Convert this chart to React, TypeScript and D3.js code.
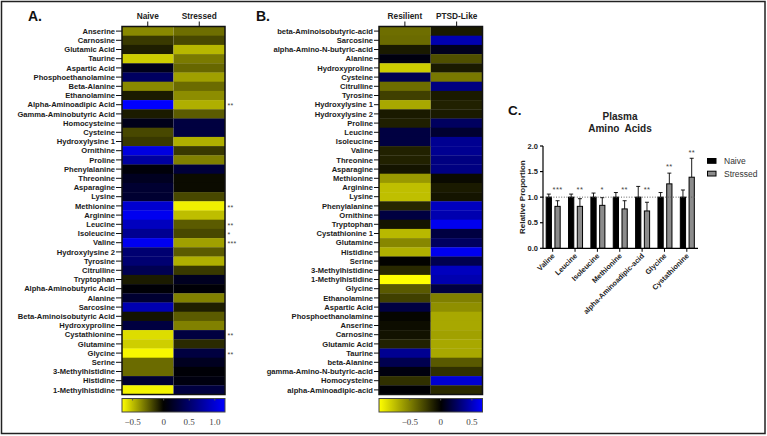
import React from "react";
import * as d3 from "d3";

// ---------- Panel A data ----------
const rowsA = [
  "Anserine", "Carnosine", "Glutamic Acid", "Taurine", "Aspartic Acid", "Phosphoethanolamine",
  "Beta-Alanine", "Ethanolamine", "Alpha-Aminoadipic Acid", "Gamma-Aminobutyric Acid", "Homocysteine",
  "Cysteine", "Hydroxylysine 1", "Ornithine", "Proline", "Phenylalanine", "Threonine", "Asparagine",
  "Lysine", "Methionine", "Arginine", "Leucine", "Isoleucine", "Valine", "Hydroxylysine 2", "Tyrosine",
  "Citrulline", "Tryptophan", "Alpha-Aminobutyric Acid", "Alanine", "Sarcosine", "Beta-Aminoisobutyric Acid",
  "Hydroxyproline", "Cystathionine", "Glutamine", "Glycine", "Serine", "3-Methylhistidine", "Histidine",
  "1-Methylhistidine",
];
const colsA = ["Naive", "Stressed"];
const naiveA = [
  -0.36, -0.15, -0.08, -0.54, 0.12, 0.45, -0.36, -0.07, 1.2, -0.07, 0.12, -0.19, -0.15, 1.05, 0.75,
  0.04, 0.15, 0.23, 0.23, 0.98, 1.13, 0.9, 0.68, 1.13, 0.53, 0.53, 0.38, -0.07, 0.03, 0.23, 0.83,
  -0.05, 0.3, -0.58, -0.54, -0.65, -0.28, -0.28, 0.23, -0.64,
];
const stressedA = [
  -0.29, -0.19, -0.48, -0.32, -0.27, -0.42, -0.28, -0.37, -0.46, -0.24, 0.3, 0.3, -0.46, -0.15, -0.34,
  0.27, -0.03, -0.03, -0.19, -0.63, -0.5, -0.24, -0.19, -0.42, -0.24, -0.46, -0.15, 0.15, 0.03, -0.34,
  -0.08, -0.24, -0.34, 0.3, -0.11, 0.3, 0.15, 0.03, 0.07, 0.3,
];
const sigA = [
  "", "", "", "", "", "", "", "", "**", "", "", "", "", "", "", "", "", "", "", "**", "", "**", "*", "***",
  "", "", "", "", "", "", "", "", "", "**", "", "**", "", "", "", "",
];
const colorDomainA = [-0.67, 0, 1.2];
const ticksA = [-0.5, 0, 0.5, 1.0];

// ---------- Panel B data ----------
const rowsB = [
  "beta-Aminoisobutyric-acid", "Sarcosine", "alpha-Amino-N-butyric-acid", "Alanine", "Hydroxyproline",
  "Cysteine", "Citrulline", "Tyrosine", "Hydroxylysine 1", "Hydroxylysine 2", "Proline", "Leucine",
  "Isoleucine", "Valine", "Threonine", "Asparagine", "Methionine", "Arginine", "Lysine", "Phenylalanine",
  "Ornithine", "Tryptophan", "Cystathionine 1", "Glutamine", "Histidine", "Serine", "3-Methylhistidine",
  "1-Methylhistidine", "Glycine", "Ethanolamine", "Aspartic Acid", "Phosphoethanolamine", "Anserine",
  "Carnosine", "Glutamic Acid", "Taurine", "beta-Alanine", "gamma-Amino-N-butyric-acid", "Homocysteine",
  "alpha-Aminoadipic-acid",
];
const colsB = ["Resilient", "PTSD-Like"];
const resilientB = [
  -0.43, -0.42, -0.1, 0.04, -0.8, 0.21, -0.43, -0.25, -0.66, -0.1, -0.12, 0.17, 0.17, -0.13, -0.13,
  -0.08, -0.6, -0.75, -0.75, -0.15, 0.17, -0.08, -0.72, -0.53, -0.69, -0.01, -0.16, -1.0, -0.35, -0.25,
  0.17, -0.02, -0.05, -0.07, -0.13, 0.38, 0.21, 0.04, -0.19, 0.01,
];
const ptsdB = [
  -0.1, 0.46, 0.08, -0.31, -0.1, -0.47, 0.34, -0.1, -0.13, -0.1, 0.25, 0.13, 0.38, 0.38, 0.34, 0.34,
  -0.04, -0.1, -0.08, 0.5, 0.46, 0.63, 0.17, 0.25, 0.63, 0.21, 0.5, 0.46, 0.17, -0.5, -0.56, -0.66,
  -0.66, -0.63, -0.66, -0.66, -0.35, -0.19, 0.55, -0.16,
];
const sigB: string[] = [];
const colorDomainB = [-1.0, 0, 0.67];
const ticksB = [-0.5, 0, 0.5];

// ---------- Panel C data ----------
const groupsC = ["Valine", "Leucine", "Isoleucine", "Methionine", "alpha-Aminoadipic-acid", "Glycine", "Cystathionine"];
const seriesC = ["Naive", "Stressed"];
const naiveMeanC = [1.0, 1.0, 1.0, 1.0, 1.0, 1.0, 1.0];
const naiveErrC = [0.06, 0.06, 0.08, 0.09, 0.21, 0.09, 0.14];
const stressedMeanC = [0.82, 0.82, 0.84, 0.77, 0.73, 1.26, 1.39];
const stressedErrC = [0.11, 0.15, 0.15, 0.16, 0.17, 0.21, 0.37];
const sigC = ["***", "**", "*", "**", "**", "**", "**"];
const sigLevelC = [1.18, 1.18, 1.18, 1.18, 1.18, 1.63, 1.91];
const yTicksC = [0, 0.5, 1.0, 1.5, 2.0];

const FONT = "'Liberation Sans', Arial, Helvetica, sans-serif";
const SERIF = "'Liberation Serif', 'Times New Roman', serif";

type HeatProps = {
  id: string;
  rows: string[];
  cols: string[];
  v1: number[];
  v2: number[];
  sig: string[];
  sigX: number;
  labelRight: number;
  x0: number;
  x1: number;
  xZero: number;
  colorDomain: number[];
  ticks: number[];
};

function Heatmap(p: HeatProps) {
  const top = 26.5;
  const rowH = 9.2;
  const y = d3.scaleBand<string>().domain(p.rows).range([top, top + rowH * p.rows.length]);
  const x = d3.scaleBand<string>().domain(p.cols).range([p.x0, p.x1]);
  const color = d3
    .scaleLinear<string>()
    .domain(p.colorDomain)
    .range(["#ffff00", "#000000", "#0000ff"])
    .clamp(true);
  const cbX = d3.scaleLinear().domain(p.colorDomain).range([p.x0, p.xZero, p.x1]);
  const bottom = top + rowH * p.rows.length;
  const cbTop = 398.5;
  const cbH = 13.5;
  const stops = d3.range(0, 1.0001, 0.05).map((t) => {
    const v = cbX.invert(p.x0 + t * (p.x1 - p.x0));
    return { off: t, c: color(v) };
  });
  const fmt = (v: number) => (v === 0 ? "0" : d3.format(".1f")(v));
  const vals = [p.v1, p.v2];
  return (
    <g>
      <defs>
        <linearGradient id={p.id} x1="0" x2="1" y1="0" y2="0">
          {stops.map((s, i) => (
            <stop key={i} offset={s.off} stopColor={s.c} />
          ))}
        </linearGradient>
      </defs>
      {p.cols.map((c) => (
        <g key={c}>
          <text
            x={(x(c) as number) + x.bandwidth() / 2}
            y={19}
            textAnchor="middle"
            fontFamily={FONT}
            fontWeight="bold"
            fontSize={8.3}
            fill="#222"
          >
            {c}
          </text>
          <line
            x1={(x(c) as number) + x.bandwidth() / 2}
            x2={(x(c) as number) + x.bandwidth() / 2}
            y1={21.5}
            y2={top}
            stroke="#111"
            strokeWidth={1}
          />
        </g>
      ))}
      {p.rows.map((r, i) => (
        <g key={r}>
          {p.cols.map((c, j) => (
            <rect
              key={c}
              x={x(c)}
              y={y(r)}
              width={x.bandwidth()}
              height={y.bandwidth() + 0.3}
              fill={color(vals[j][i])}
            />
          ))}
          <text
            x={p.labelRight}
            y={(y(r) as number) + y.bandwidth() / 2}
            dy="0.35em"
            textAnchor="end"
            fontFamily={FONT}
            fontWeight="bold"
            fontSize={7.6}
            fill="#1a1a1a"
          >
            {r}
          </text>
          <line
            x1={p.labelRight + 1}
            x2={p.x0}
            y1={(y(r) as number) + y.bandwidth() / 2}
            y2={(y(r) as number) + y.bandwidth() / 2}
            stroke="#111"
            strokeWidth={1}
          />
          {p.sig[i] ? (
            <text
              x={p.sigX}
              y={(y(r) as number) + y.bandwidth() / 2 + 3.6}
              fontFamily={FONT}
              fontSize={7}
              fill="#444"
              letterSpacing={0.3}
            >
              {p.sig[i]}
            </text>
          ) : null}
        </g>
      ))}
      <rect x={p.x0} y={top} width={p.x1 - p.x0} height={bottom - top} fill="none" stroke="#111" strokeWidth={1.5} />
      <rect x={p.x0} y={cbTop} width={p.x1 - p.x0} height={cbH} fill={`url(#${p.id})`} stroke="#444" strokeWidth={1} />
      {p.ticks.map((t) => (
        <g key={t}>
          <line x1={cbX(t)} x2={cbX(t)} y1={cbTop} y2={cbTop + 2} stroke="#555" strokeWidth={1} />
          <text x={cbX(t)} y={424.5} textAnchor="middle" fontFamily={SERIF} fontSize={9} fill="#444">
            {fmt(t)}
          </text>
        </g>
      ))}
    </g>
  );
}

function BarPanel() {
  const y = d3.scaleLinear().domain([0, 2]).range([248.3, 146]);
  const x = d3.scaleBand<string>().domain(groupsC).range([541.5, 698]);
  const sub = d3.scaleBand<string>().domain(seriesC).range([-6.5, 7.5]).paddingInner(0.4);
  const axisX0 = 543;
  const axisX1 = 698;
  const means = [naiveMeanC, stressedMeanC];
  const errs = [naiveErrC, stressedErrC];
  const fills = ["#000000", "#8c8c8c"];
  return (
    <g fontFamily={FONT}>
      <text x={508} y={115} fontWeight="bold" fontSize={13.5} fill="#111">
        C.
      </text>
      <text x={620} y={120} textAnchor="middle" fontWeight="bold" fontSize={10} fill="#222">
        Plasma
      </text>
      <text x={620} y={131.5} textAnchor="middle" fontWeight="bold" fontSize={10} fill="#222" style={{ whiteSpace: "pre" }}>
        {"Amino  Acids"}
      </text>
      {/* bars */}
      {groupsC.map((g, i) => {
        const cx = (x(g) as number) + x.bandwidth() / 2;
        return (
          <g key={g}>
            {seriesC.map((s, j) => {
              const bx = cx + (sub(s) as number);
              const bw = sub.bandwidth();
              const m = means[j][i];
              const e = errs[j][i];
              return (
                <g key={s}>
                  <line x1={bx + bw / 2} x2={bx + bw / 2} y1={y(m)} y2={y(m + e)} stroke="#000" strokeWidth={0.9} />
                  <line x1={bx + bw / 2 - 2} x2={bx + bw / 2 + 2} y1={y(m + e)} y2={y(m + e)} stroke="#000" strokeWidth={0.9} />
                  <rect x={bx} y={y(m)} width={bw} height={y(0) - y(m)} fill={fills[j]} stroke="#000" strokeWidth={1} />
                </g>
              );
            })}
            <text
              x={cx + (sub("Stressed") as number) + sub.bandwidth() / 2}
              y={y(sigLevelC[i]) + 4.2}
              textAnchor="middle"
              fontSize={7.5}
              fill="#444"
              letterSpacing={0.4}
            >
              {sigC[i]}
            </text>
            <line x1={cx} x2={cx} y1={y(0)} y2={y(0) + 3.5} stroke="#000" strokeWidth={1} />
            <text
              transform={`translate(${cx + 2.5},${y(0) + 8}) rotate(-45)`}
              textAnchor="end"
              fontSize={7.3}
              fontWeight="bold"
              fill="#222"
            >
              {g}
            </text>
          </g>
        );
      })}
      {/* reference line */}
      <line x1={axisX0} x2={695} y1={y(1)} y2={y(1)} stroke="#555" strokeWidth={0.9} strokeDasharray="1,1.6" />
      {/* axes */}
      <line x1={axisX0} x2={axisX0} y1={y(2)} y2={y(0)} stroke="#000" strokeWidth={1.2} />
      <line x1={axisX0} x2={axisX1} y1={y(0)} y2={y(0)} stroke="#000" strokeWidth={1.2} />
      {yTicksC.map((t) => (
        <g key={t}>
          <line x1={axisX0 - 3} x2={axisX0} y1={y(t)} y2={y(t)} stroke="#000" strokeWidth={1.2} />
          <text x={538} y={y(t)} dy="0.35em" textAnchor="end" fontSize={7.5} fontWeight="bold" fill="#222">
            {d3.format(".1f")(t)}
          </text>
        </g>
      ))}
      <text
        transform={`translate(524.5,${(y(0) + y(2)) / 2}) rotate(-90)`}
        textAnchor="middle"
        fontSize={8}
        fontWeight="bold"
        fill="#222"
      >
        Relative Proportion
      </text>
      {/* legend */}
      {seriesC.map((s, j) => (
        <g key={s}>
          <rect x={707.5} y={158.5 + j * 12.7} width={8.5} height={4.8} fill={fills[j]} stroke="#000" strokeWidth={1} />
          <text x={724} y={161 + j * 12.7} dy="0.35em" fontSize={8.5} fill="#333">
            {s}
          </text>
        </g>
      ))}
    </g>
  );
}

export default function App() {
  return (
    <svg
      width={767}
      height={436}
      style={{ position: "absolute", left: 0, top: 0, background: "#fff" }}
      xmlns="http://www.w3.org/2000/svg"
    >
      <rect x={0} y={0} width={767} height={436} fill="#fff" />
      <rect x={1.5} y={1.5} width={763.5} height={432} fill="none" stroke="#222" strokeWidth={1.5} />
      <text x={28} y={21} fontFamily={FONT} fontWeight="bold" fontSize={14} fill="#111">
        A.
      </text>
      <text x={256} y={20.5} fontFamily={FONT} fontWeight="bold" fontSize={14} fill="#111">
        B.
      </text>
      <Heatmap
        id="cbA"
        rows={rowsA}
        cols={colsA}
        v1={naiveA}
        v2={stressedA}
        sig={sigA}
        sigX={227.5}
        labelRight={115}
        x0={122}
        x1={225}
        xZero={163.7}
        colorDomain={colorDomainA}
        ticks={ticksA}
      />
      <Heatmap
        id="cbB"
        rows={rowsB}
        cols={colsB}
        v1={resilientB}
        v2={ptsdB}
        sig={sigB}
        sigX={231}
        labelRight={373}
        x0={379}
        x1={482.5}
        xZero={440.7}
        colorDomain={colorDomainB}
        ticks={ticksB}
      />
      <BarPanel />
    </svg>
  );
}
